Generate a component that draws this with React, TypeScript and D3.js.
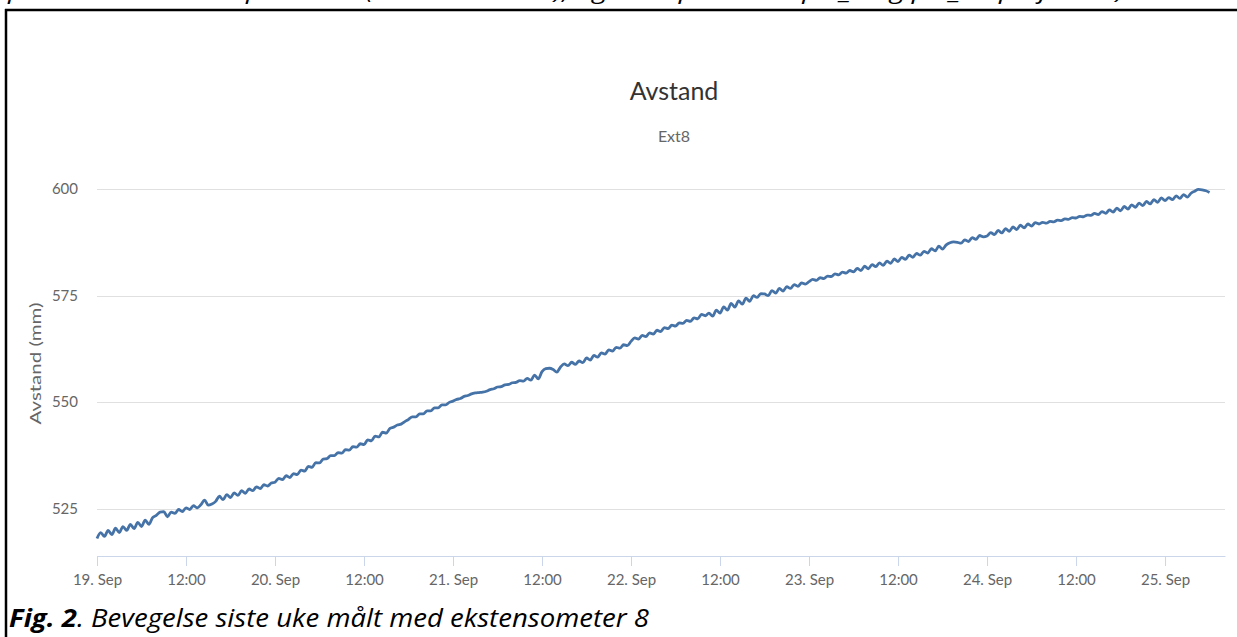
import { useEffect, useRef } from "react";
import * as d3 from "d3";

// half-hourly readings, Ext8 (mm), starting 19 Sep 00:00
const sep19 = [
  518.1, 519.5, 518.6, 520.0, 519.0, 520.5, 519.5, 520.9, 520.0, 521.4, 520.4, 521.9,
  520.9, 522.4, 521.4, 523.0, 523.5, 524.3, 524.4, 523.2, 524.3, 524.0, 524.9, 524.4,
  525.3, 524.9, 525.8, 525.3, 526.0, 527.1, 525.9, 526.2, 526.8, 528.0, 527.2, 528.4,
  527.7, 528.8, 528.2, 529.3, 528.7, 529.7, 529.3, 530.2, 529.8, 530.7, 530.4, 531.1,
];
const sep20 = [
  531.3, 532.2, 531.9, 532.8, 532.4, 533.3, 533.1, 534.1, 533.9, 535.0, 534.8, 535.9,
  535.8, 536.7, 536.8, 537.5, 537.5, 538.2, 538.1, 538.9, 538.8, 539.6, 539.5, 540.3,
  540.1, 541.2, 541.0, 542.1, 541.9, 543.0, 542.8, 543.9, 544.2, 544.7, 544.9, 545.5,
  546.0, 546.6, 546.6, 547.3, 547.3, 548.0, 548.0, 548.7, 548.7, 549.4, 549.4, 550.0,
];
const sep21 = [
  550.3, 550.7, 550.9, 551.4, 551.6, 552.0, 552.2, 552.3, 552.4, 552.6, 553.0, 553.2,
  553.6, 553.7, 554.1, 554.2, 554.6, 554.7, 555.1, 555.0, 555.6, 555.2, 556.4, 555.5,
  557.2, 557.9, 558.0, 557.7, 557.1, 558.3, 559.0, 558.6, 559.4, 558.9, 559.7, 559.3,
  560.4, 559.9, 561.0, 560.6, 561.6, 561.3, 562.3, 562.0, 562.9, 562.7, 563.5, 563.3,
];
const sep22 = [
  564.3, 565.1, 564.8, 565.7, 565.4, 566.3, 566.0, 566.9, 566.6, 567.5, 567.3, 568.1,
  567.9, 568.6, 568.5, 569.2, 569.0, 569.8, 569.6, 570.6, 570.3, 570.9, 570.2, 571.6,
  570.9, 572.4, 571.6, 573.2, 572.3, 573.8, 573.0, 574.4, 573.7, 575.0, 574.6, 575.5,
  575.4, 575.0, 576.2, 575.6, 576.7, 576.1, 577.1, 576.7, 577.6, 577.2, 578.0, 577.7,
];
const sep23 = [
  578.3, 578.8, 578.6, 579.2, 579.0, 579.6, 579.5, 580.1, 579.9, 580.5, 580.3, 580.9,
  580.6, 581.4, 580.9, 581.9, 581.3, 582.3, 581.8, 582.7, 582.1, 583.1, 582.6, 583.6,
  583.0, 584.0, 583.5, 584.5, 584.0, 584.9, 584.5, 585.4, 585.0, 586.0, 585.5, 586.6,
  585.9, 586.9, 587.4, 587.6, 587.5, 587.3, 588.1, 587.7, 588.6, 588.2, 589.1, 588.8,
];
const sep24 = [
  589.0, 589.8, 589.3, 590.3, 589.7, 590.7, 590.1, 591.1, 590.5, 591.5, 590.9, 591.8,
  591.3, 592.1, 591.8, 592.2, 592.0, 592.4, 592.3, 592.7, 592.6, 593.0, 592.9, 593.3,
  593.2, 593.6, 593.5, 593.9, 593.8, 594.3, 594.0, 594.7, 594.3, 595.1, 594.6, 595.5,
  594.9, 595.9, 595.3, 596.3, 595.7, 596.7, 596.1, 597.1, 596.5, 597.5, 596.9, 597.9,
];
const sep25 = [
  597.3, 598.0, 597.5, 598.4, 597.8, 598.7, 598.1, 599.0, 599.5, 599.9, 599.8, 599.6, 599.2,
];
const readings = [...sep19, ...sep20, ...sep21, ...sep22, ...sep23, ...sep24, ...sep25];
const startTime = new Date(2019, 8, 19, 0, 0);
const stepMinutes = 30;

const yTicks = [525, 550, 575, 600];

const chartTitle = "Avstand";
const chartSubtitle = "Ext8";
const yAxisTitle = "Avstand (mm)";
const topLine =
  "punktene i tabell 2 på side 4 (ekstensometre), og nabopunktene pts_6 og pts_30 på fortau)";
const captionBold = "Fig. 2";
const captionRest = ". Bevegelse siste uke målt med ekstensometer 8";

const font = "Lato, 'Open Sans', sans-serif";
const docFont = "'Open Sans', Lato, sans-serif";

const App = () => {
  const svgRef = useRef<SVGSVGElement>(null);
  const width = 1237;
  const height = 637;
  const plot = { left: 97, right: 1225, top: 189, bottom: 556 };

  useEffect(() => {
    const svg = d3.select(svgRef.current);
    svg.selectAll("*").remove();

    const data = readings.map((v, i) => ({
      t: new Date(startTime.getTime() + i * stepMinutes * 60000),
      v,
    }));

    const x = d3
      .scaleTime()
      .domain([startTime, new Date(2019, 8, 25, 8, 5)])
      .range([plot.left, plot.right]);
    const y = d3.scaleLinear().domain([514, 600]).range([plot.bottom, plot.top]);

    // document text around the chart (top line is cut off in the page)
    svg
      .append("text")
      .attr("x", 8)
      .attr("y", -1)
      .attr("font-family", docFont)
      .attr("font-style", "italic")
      .attr("font-size", 22)
      .attr("textLength", 1116)
      .attr("lengthAdjust", "spacingAndGlyphs")
      .text(topLine);

    svg
      .append("line")
      .attr("x1", 5)
      .attr("x2", width)
      .attr("y1", 10)
      .attr("y2", 10)
      .attr("stroke", "#000")
      .attr("stroke-width", 2.5);
    svg
      .append("line")
      .attr("x1", 6)
      .attr("x2", 6)
      .attr("y1", 9)
      .attr("y2", height)
      .attr("stroke", "#000")
      .attr("stroke-width", 2.5);

    const cap = svg
      .append("text")
      .attr("x", 9)
      .attr("y", 627)
      .attr("font-family", docFont)
      .attr("font-style", "italic")
      .attr("font-size", 25)
      .attr("textLength", 640)
      .attr("lengthAdjust", "spacingAndGlyphs")
      .attr("fill", "#000");
    cap.append("tspan").attr("font-weight", "bold").text(captionBold);
    cap.append("tspan").text(captionRest);

    // titles
    svg
      .append("text")
      .attr("x", 674)
      .attr("y", 100)
      .attr("text-anchor", "middle")
      .attr("font-family", font)
      .attr("font-size", 25)
      .attr("fill", "#333")
      .text(chartTitle);
    svg
      .append("text")
      .attr("x", 674)
      .attr("y", 142)
      .attr("text-anchor", "middle")
      .attr("font-family", font)
      .attr("font-size", 16)
      .attr("fill", "#666")
      .text(chartSubtitle);

    // y grid + labels
    const g = svg.append("g");
    g.selectAll(".grid")
      .data(yTicks)
      .enter()
      .append("line")
      .attr("x1", plot.left)
      .attr("x2", plot.right)
      .attr("y1", (d) => Math.round(y(d)) + 0.5)
      .attr("y2", (d) => Math.round(y(d)) + 0.5)
      .attr("stroke", "#e0e0e0");
    g.selectAll(".ylab")
      .data(yTicks)
      .enter()
      .append("text")
      .attr("x", 78)
      .attr("y", (d) => y(d) + 5)
      .attr("text-anchor", "end")
      .attr("font-family", font)
      .attr("font-size", 15)
      .attr("fill", "#666")
      .text((d) => d);

    svg
      .append("text")
      .attr("transform", `translate(41, ${(plot.top + plot.bottom) / 2 - 9}) rotate(-90)`)
      .attr("text-anchor", "middle")
      .attr("font-family", font)
      .attr("font-size", 16)
      .attr("textLength", 122)
      .attr("lengthAdjust", "spacingAndGlyphs")
      .attr("fill", "#666")
      .text(yAxisTitle);

    // x axis
    const fmt = (d: Date) =>
      d.getHours() === 0 ? `${d.getDate()}. ${d3.timeFormat("%b")(d)}` : d3.timeFormat("%H:%M")(d);
    const xAxis = d3
      .axisBottom(x)
      .ticks(d3.timeHour.every(12))
      .tickFormat(fmt as any)
      .tickSizeInner(10)
      .tickSizeOuter(0)
      .tickPadding(8);
    const xg = svg
      .append("g")
      .attr("transform", `translate(0, ${plot.bottom})`)
      .call(xAxis as any);
    xg.select(".domain").attr("stroke", "#ccd6eb");
    xg.selectAll(".tick line").attr("stroke", "#ccd6eb");
    xg.selectAll(".tick text")
      .attr("font-family", font)
      .attr("font-size", 15)
      .attr("fill", "#666");

    // series
    const line = d3
      .line<{ t: Date; v: number }>()
      .x((d) => x(d.t))
      .y((d) => y(d.v))
      .curve(d3.curveMonotoneX);
    svg
      .append("path")
      .datum(data)
      .attr("d", line)
      .attr("fill", "none")
      .attr("stroke", "#4572a7")
      .attr("stroke-width", 2.8)
      .attr("stroke-linejoin", "round");
  }, []);

  return (
    <svg
      ref={svgRef}
      width={width}
      height={height}
      style={{ position: "absolute", left: 0, top: 0, background: "#fff" }}
    ></svg>
  );
};

export default App;
